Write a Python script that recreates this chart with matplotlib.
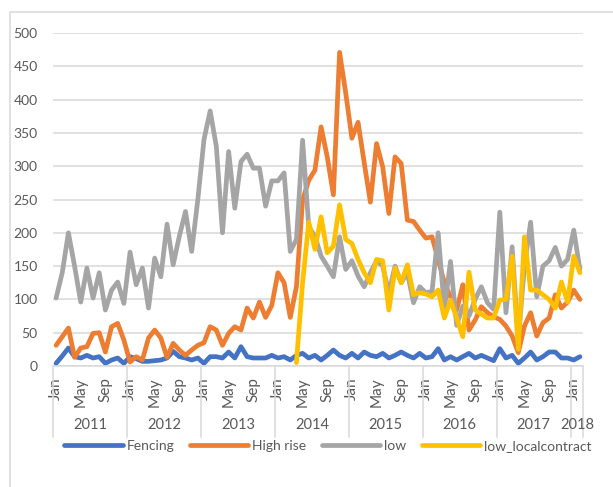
import numpy as np
import matplotlib
matplotlib.use("Agg")
import matplotlib.pyplot as plt
from matplotlib import transforms
from matplotlib.patches import Rectangle

# --- Data (monthly, Jan 2011 - Feb 2018) ---
years = ["2011", "2012", "2013", "2014", "2015", "2016", "2017", "2018"]
months_per_year = [12, 12, 12, 12, 12, 12, 12, 2]
month_names = ["Jan", "Feb", "Mar", "Apr", "May", "Jun",
               "Jul", "Aug", "Sep", "Oct", "Nov", "Dec"]
shown_months = ["Jan", "May", "Sep"]

fencing = [4, 15, 27, 14, 12, 16, 12, 14, 4, 9, 12, 4,
           14, 11, 7, 7, 8, 9, 12, 22, 14, 12, 9, 12,
           4, 14, 14, 12, 21, 12, 29, 14, 12, 12, 12, 16,
           12, 14, 9, 16, 19, 12, 16, 9, 16, 24, 16, 12,
           19, 12, 21, 16, 14, 19, 12, 16, 21, 16, 12, 19,
           12, 14, 26, 9, 14, 9, 14, 19, 12, 16, 12, 8,
           26, 12, 16, 4, 12, 21, 9, 14, 21, 21, 12, 12,
           9, 14]

high_rise = [31, 44, 57, 13, 27, 29, 49, 50, 21, 59, 64, 39,
             6, 14, 9, 42, 54, 42, 13, 34, 24, 16, 24, 31,
             35, 59, 54, 31, 49, 59, 54, 87, 72, 96, 73, 91,
             140, 125, 73, 119, 249, 279, 294, 359, 314, 257, 471, 410,
             342, 366, 305, 246, 334, 299, 229, 314, 304, 219, 217, 204,
             192, 194, 160, 125, 104, 84, 122, 54, 69, 89, 80, 74,
             70, 60, 45, 20, 60, 80, 45, 65, 72, 107, 87, 96,
             114, 100]

low = [102, 140, 200, 150, 96, 147, 102, 140, 84, 114, 126, 94,
       171, 122, 147, 87, 162, 134, 213, 152, 195, 232, 172, 250,
       340, 383, 330, 200, 322, 237, 307, 318, 297, 297, 240, 278,
       278, 290, 172, 190, 339, 209, 195, 165, 150, 134, 194, 145,
       158, 135, 119, 140, 158, 150, 110, 150, 125, 140, 95, 119,
       110, 112, 200, 85, 157, 61, 90, 75, 100, 119, 95, 85,
       231, 80, 179, 40, 150, 216, 104, 150, 158, 178, 150, 160,
       204, 145]

nan = np.nan
low_localcontract = [nan] * 36 + [
    nan, nan, nan, 5, 125, 216, 175, 224, 170, 180, 242, 190,
    184, 160, 140, 125, 160, 158, 84, 147, 125, 152, 107, 110,
    108, 104, 114, 72, 99, 72, 44, 141, 84, 78, 72, 72,
    99, 100, 165, 25, 194, 114, 114, 107, 100, 87, 126, 96,
    165, 140]

series = [("Fencing", fencing, "#4472C4"),
          ("High rise", high_rise, "#ED7D31"),
          ("low", low, "#A5A5A5"),
          ("low_localcontract", low_localcontract, "#FFC000")]

text_col = "#595959"
grid_col = "#D9D9D9"
plt.rcParams["font.family"] = ["Lato", "DejaVu Sans"]

W, H = 613, 487
fig = plt.figure(figsize=(W / 100, H / 100), dpi=100)
ax = fig.add_axes([53 / W, 1 - 366 / H, (583 - 53) / W, (366 - 33) / H])

x = np.arange(len(fencing))
for name, vals, col in series:
    ax.plot(x, vals, color=col, lw=3.4, label=name,
            solid_joinstyle="round", solid_capstyle="round")

ax.set_xlim(-0.5, len(x) - 0.5)
ax.set_ylim(0, 500)
ax.set_yticks(range(0, 501, 50))
ax.grid(axis="y", color=grid_col, lw=1.1)
ax.set_axisbelow(True)
for s in ["left", "right", "top"]:
    ax.spines[s].set_visible(False)
ax.spines["bottom"].set_color(grid_col)
ax.spines["bottom"].set_linewidth(1.1)
ax.tick_params(axis="y", length=0, pad=11, labelsize=10, labelcolor=text_col)

# month tick labels
ticks, labels = [], []
i = 0
for n in months_per_year:
    for m in range(n):
        if month_names[m] in shown_months:
            ticks.append(i + m)
            labels.append(month_names[m])
    i += n
ax.set_xticks(ticks, labels, rotation=90)
ax.tick_params(axis="x", length=0, pad=8, labelsize=11, labelcolor=text_col)

# year labels and separators
tr = transforms.blended_transform_factory(ax.transData, fig.transFigure)
start = -0.5
bounds = [start]
for y, n in zip(years, months_per_year):
    ax.text(start + n / 2, 1 - 425 / H, y, transform=tr, ha="center",
            va="center", fontsize=10.5, color=text_col, clip_on=False)
    start += n
    bounds.append(start)
for b in bounds:
    ax.plot([b, b], [1 - 366 / H, 1 - 437 / H], transform=tr, color=grid_col,
            lw=1.1, clip_on=False)

# legend
fig.legend(loc="center", bbox_to_anchor=(328 / W, 1 - 446 / H), ncol=4,
           frameon=False, fontsize=10, handlelength=4.2, handletextpad=0.3,
           columnspacing=1.1, labelcolor=text_col)

# chart frame
fig.patches.append(Rectangle((10 / W, -0.1), 1.2, 1.1 - 12 / H,
                             transform=fig.transFigure, fill=False,
                             edgecolor=grid_col, lw=1.1))

fig.savefig("out.png", dpi=100)
